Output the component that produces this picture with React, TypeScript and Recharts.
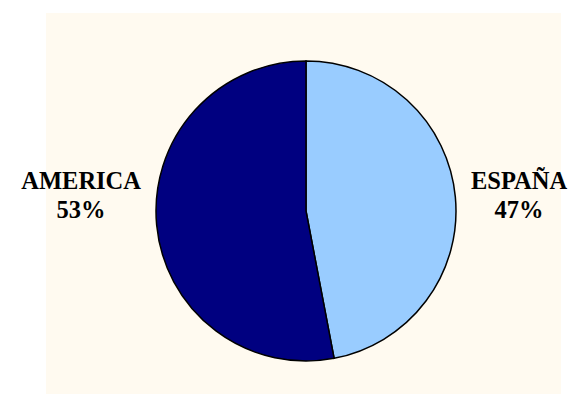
import React from 'react';
import { PieChart, Pie, Cell } from 'recharts';

const regions = ['ESPAÑA', 'AMERICA'];
const shares = [47, 53];
const colors = ['#99ccff', '#000080'];

const data = regions.map((name, i) => ({ name, value: shares[i] }));

const FONT = '"Times New Roman", "Liberation Serif", serif';
const FONT_SIZE = 24.5;

let ctx: CanvasRenderingContext2D | null = null;
function textWidth(s: string) {
  if (!ctx) ctx = document.createElement('canvas').getContext('2d');
  if (!ctx) return s.length * FONT_SIZE * 0.7;
  ctx.font = `bold ${FONT_SIZE}px ${FONT}`;
  return ctx.measureText(s).width;
}

const RADIAN = Math.PI / 180;

function renderLabel(props: any) {
  const { cx, cy, midAngle, outerRadius, name, value } = props;
  const cos = Math.cos(-midAngle * RADIAN);
  const w = textWidth(name);
  const gap = 15;
  const x = cx + (cos >= 0 ? 1 : -1) * (outerRadius + gap + w / 2);
  return (
    <g>
      <text
        x={x}
        y={cy - 22}
        textAnchor="middle"
        fontFamily={FONT}
        fontSize={FONT_SIZE}
        fontWeight="bold"
        fill="#000"
      >
        {name}
      </text>
      <text
        x={x}
        y={cy + 7}
        textAnchor="middle"
        fontFamily={FONT}
        fontSize={FONT_SIZE}
        fontWeight="bold"
        fill="#000"
      >
        {value}%
      </text>
    </g>
  );
}

export default function App() {
  return (
    <div
      style={{
        position: 'absolute',
        left: 0,
        top: 0,
        width: 570,
        height: 394,
        background: '#ffffff',
        overflow: 'hidden',
      }}
    >
      <div
        style={{
          position: 'absolute',
          left: 46,
          top: 13,
          width: 515,
          height: 381,
          background: '#fffaf0',
        }}
      />
      <div style={{ position: 'absolute', left: 0, top: 0 }}>
        <PieChart width={570} height={394}>
          <Pie
            data={data}
            dataKey="value"
            nameKey="name"
            cx={301}
            cy={206}
            outerRadius={150}
            startAngle={90}
            endAngle={-270}
            stroke="#000"
            strokeWidth={1.5}
            label={renderLabel}
            labelLine={false}
            isAnimationActive={false}
          >
            {data.map((d, i) => (
              <Cell key={d.name} fill={colors[i]} />
            ))}
          </Pie>
        </PieChart>
      </div>
    </div>
  );
}
